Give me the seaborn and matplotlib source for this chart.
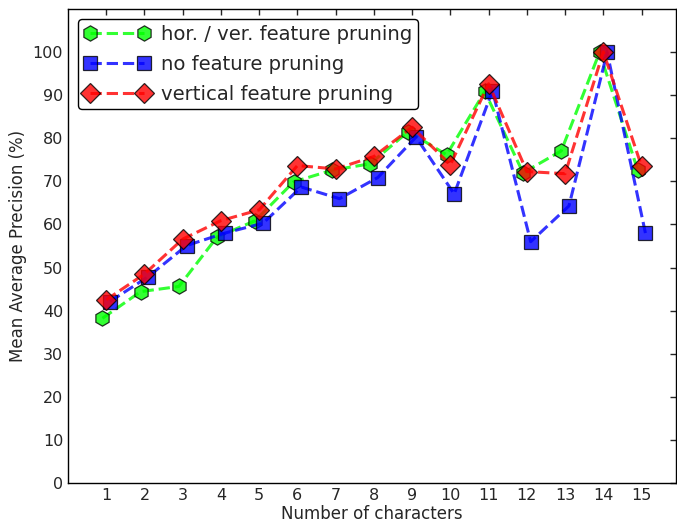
import numpy as np
import pandas as pd
import seaborn as sns
from matplotlib import pyplot as plt

# number of characters on the x axis
chars = list(range(1, 16))

# mean average precision (%) per pruning strategy
hor_ver = [38.2, 44.4, 45.6, 57.1, 60.9, 69.9, 72.6, 74.1, 81.6, 76.2, 90.9, 72.0, 77.1, 100.0, 72.6]
no_pruning = [42.1, 47.9, 55.1, 58.0, 60.3, 68.7, 66.0, 70.9, 80.3, 67.1, 91.1, 56.0, 64.3, 100.0, 58.0]
vertical = [42.5, 48.5, 56.6, 60.9, 63.4, 73.7, 72.9, 75.8, 82.6, 73.9, 92.7, 72.3, 71.8, 100.1, 73.5]

labels = ["hor. / ver. feature pruning", "no feature pruning", "vertical feature pruning"]

sns.set_style("white")
plt.rcParams.update({
    "font.family": ["DejaVu Sans"],
    "xtick.direction": "in",
    "ytick.direction": "in",
    "xtick.top": True,
    "ytick.right": True,
    "xtick.major.size": 4,
    "ytick.major.size": 4,
    "axes.edgecolor": "black",
    "axes.linewidth": 1.0,
})

fig = plt.figure(figsize=(6.77, 5.23), dpi=100)
ax = fig.add_axes([68 / 677, 40.3 / 523, 608 / 677, 473.4 / 523])

# (values, colour, marker, marker size, x shift)
styles = [
    (hor_ver, "lime", "h", 11, -0.1),
    (no_pruning, "blue", "s", 10.5, 0.1),
    (vertical, "red", "D", 10, 0.0),
]

x = np.array(chars, dtype=float)
for (vals, col, mk, ms, dx), lab in zip(styles, labels):
    df = pd.DataFrame({"x": x + dx, "y": vals})
    sns.lineplot(data=df, x="x", y="y", ax=ax, color=col, marker=mk,
                 markersize=ms, markeredgecolor="black", markeredgewidth=0.9,
                 linestyle="--", linewidth=2.2, alpha=0.8, label=lab,
                 estimator=None, sort=False)

ax.set_xlim(0, 15.9)
ax.set_ylim(0, 110)
ax.set_xticks(chars)
ax.set_yticks(range(0, 101, 10))
ax.tick_params(labelsize=11.5, width=1)
ax.set_xlabel("Number of characters", fontsize=12, labelpad=2)
ax.set_ylabel("Mean Average Precision (%)", fontsize=12)

leg = ax.legend(loc="upper left", fontsize=14.1, numpoints=2, fancybox=True,
                framealpha=1, edgecolor="black", borderaxespad=0.5,
                handlelength=3.4, labelspacing=0.55, borderpad=0.3,
                handletextpad=0.55)
leg.get_frame().set_linewidth(1.0)

fig.savefig("out.png", dpi=100)
